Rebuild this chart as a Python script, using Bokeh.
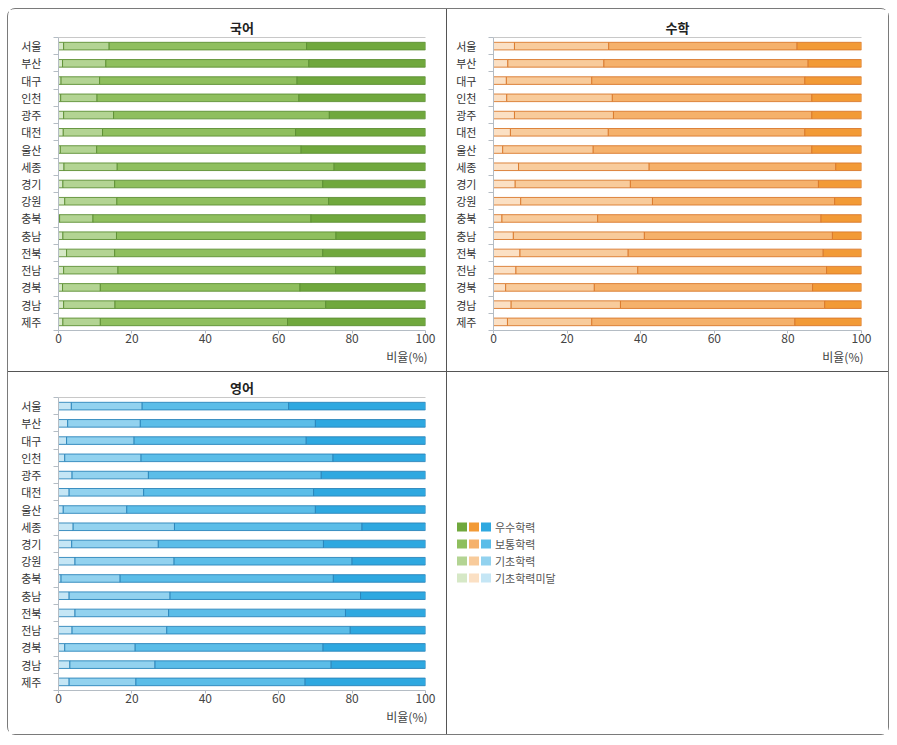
from bokeh.plotting import figure
from bokeh.layouts import column, row
from bokeh.models import Range1d, FixedTicker, LinearAxis, Title, Div
from bokeh.core.properties import value
from bokeh.embed import file_html
from bokeh.resources import INLINE

FONT = "Noto Sans CJK KR"

regions = ["서울", "부산", "대구", "인천", "광주", "대전", "울산", "세종", "경기",
           "강원", "충북", "충남", "전북", "전남", "경북", "경남", "제주"]
levels = ["기초학력미달", "기초학력", "보통학력", "우수학력"]
legend_order = ["우수학력", "보통학력", "기초학력", "기초학력미달"]
x_ticks = [0, 20, 40, 60, 80, 100]
x_title = "비율(%)"

# 국어 (%): 기초학력미달, 기초학력, 보통학력, 우수학력
kor_below = [1.4, 1.1, 0.7, 0.6, 1.4, 1.3, 0.5, 1.5, 1.2, 1.7, 0.3, 1.2, 2.2, 1.4, 1.1, 1.4, 1.2]
kor_basic = [12.4, 11.8, 10.5, 9.9, 13.6, 10.7, 9.9, 14.5, 14.1, 14.2, 9.1, 14.6, 13.1, 14.8, 10.3, 14.0, 10.2]
kor_normal = [53.8, 55.3, 53.8, 55.0, 58.8, 52.6, 55.7, 59.1, 56.7, 57.7, 59.4, 59.8, 56.7, 59.3, 54.4, 57.4, 51.0]
kor_excel = [32.4, 31.8, 35.0, 34.5, 26.2, 35.4, 33.9, 24.9, 28.0, 26.4, 31.2, 24.4, 28.0, 24.5, 34.2, 27.2, 37.6]

# 수학 (%)
math_below = [5.7, 3.9, 3.5, 3.6, 5.7, 4.6, 2.5, 6.8, 5.9, 7.4, 2.3, 5.4, 7.2, 6.1, 3.3, 4.8, 3.8]
math_basic = [25.6, 26.1, 23.2, 28.7, 26.9, 26.6, 24.6, 35.5, 31.3, 35.8, 26.0, 35.6, 29.4, 33.1, 24.1, 29.7, 22.9]
math_normal = [51.2, 55.5, 57.9, 54.2, 53.9, 53.4, 59.4, 50.7, 51.1, 49.5, 60.7, 51.1, 53.0, 51.3, 59.3, 55.5, 55.2]
math_excel = [17.5, 14.5, 15.4, 13.5, 13.5, 15.4, 13.5, 7.0, 11.7, 7.3, 11.0, 7.9, 10.4, 9.5, 13.3, 10.0, 18.1]

# 영어 (%)
eng_below = [3.5, 2.5, 2.2, 1.7, 3.7, 2.9, 1.3, 4.0, 3.6, 4.5, 0.7, 2.9, 4.5, 3.7, 1.7, 3.1, 2.9]
eng_basic = [19.3, 19.8, 18.4, 20.8, 20.8, 20.3, 17.3, 27.6, 23.6, 27.0, 16.1, 27.5, 25.5, 25.8, 19.2, 23.2, 18.2]
eng_normal = [39.9, 47.7, 46.9, 52.3, 47.1, 46.3, 51.4, 51.1, 45.0, 48.5, 58.1, 51.9, 48.2, 50.0, 51.2, 48.0, 46.1]
eng_excel = [37.3, 30.0, 32.5, 25.2, 28.4, 30.5, 30.0, 17.3, 27.8, 20.0, 25.1, 17.7, 21.8, 20.5, 27.9, 25.7, 32.8]

# palettes: 미달, 기초, 보통, 우수
kor_colors = ["#D6E8C6", "#B3D493", "#8FBF5E", "#70A83D"]
math_colors = ["#FBE0C4", "#F8CB9B", "#F5B16B", "#F29A36"]
eng_colors = ["#C5E6F5", "#92D2EF", "#5BBDE8", "#2EA8E0"]
kor_line = "#5C8E33"
math_line = "#D9782B"
eng_line = "#2A85BA"

AX = "#b4bcc4"
TXT = "#333333"


def make_panel(title, series, colors, line, width, height, bl, br, bt, bb):
    n = len(regions)
    p = figure(width=width, height=height, output_backend="svg", toolbar_location=None,
               x_range=Range1d(0, 100), y_range=Range1d(n - 0.5, -0.5),
               min_border_left=bl, min_border_right=br, min_border_top=bt, min_border_bottom=bb)
    p.title.text = title
    p.title.align = "center"
    p.title.text_font = FONT
    p.title.text_font_size = "13px"
    p.title.text_font_style = "bold"
    p.title.text_color = "#222222"
    p.title.standoff = 2
    p.outline_line_color = None
    p.grid.visible = False
    p.background_fill_color = "white"
    p.border_fill_color = "white"

    ys = list(range(n))
    left = [0.0] * n
    for k, vals in enumerate(series):
        right = [a + b for a, b in zip(left, vals)]
        p.hbar(y=ys, left=left, right=right, height=0.44, fill_color=colors[k],
               line_color=line, line_width=0.9)
        left = right

    xa = p.xaxis[0]
    xa.ticker = FixedTicker(ticks=x_ticks)
    xa.major_label_text_font = FONT
    xa.major_label_text_font_size = "12px"
    xa.major_label_text_color = "#444444"
    xa.major_tick_out = 3
    xa.major_tick_in = 0
    xa.minor_tick_line_color = None
    xa.axis_line_color = AX
    xa.major_tick_line_color = AX
    xa.major_label_standoff = 0

    ya = p.yaxis[0]
    ya.ticker = FixedTicker(ticks=ys, minor_ticks=[i - 0.5 for i in range(n + 1)])
    ya.major_label_overrides = {i: r for i, r in enumerate(regions)}
    ya.major_label_text_font = FONT
    ya.major_label_text_font_size = "11px"
    ya.major_label_text_color = TXT
    ya.major_tick_out = 0
    ya.major_tick_in = 0
    ya.major_tick_line_color = None
    ya.minor_tick_out = 5
    ya.minor_tick_in = 0
    ya.minor_tick_line_color = AX
    ya.axis_line_color = AX
    ya.major_label_standoff = 12

    top = LinearAxis(ticker=FixedTicker(ticks=[]), axis_line_color="#c8c8c8",
                     major_tick_line_color=None, minor_tick_line_color=None,
                     major_label_text_font_size="0px")
    p.add_layout(top, "above")

    p.add_layout(Title(text=x_title, align="right", text_font=FONT, text_font_size="12px",
                       text_font_style="normal", text_color="#444444", standoff=0,
                       offset=-2), "below")
    return p


p1 = make_panel("국어", [kor_below, kor_basic, kor_normal, kor_excel], kor_colors, kor_line,
                438, 362, 50, 21, 28, 41)
p2 = make_panel("수학", [math_below, math_basic, math_normal, math_excel], math_colors, math_line,
                441, 362, 46, 27, 28, 41)
p3 = make_panel("영어", [eng_below, eng_basic, eng_normal, eng_excel], eng_colors, eng_line,
                438, 362, 50, 21, 25, 44)

# legend panel (frame aligned with p3's frame; data units = canvas pixels)
W4, H4 = 441, 362
BT4, BB4 = 25, 44
p4 = figure(width=W4, height=H4, output_backend="svg", toolbar_location=None,
            x_range=Range1d(0, W4), y_range=Range1d(H4 - BB4, BT4),
            x_axis_type=None, y_axis_type=None,
            min_border_left=0, min_border_right=0, min_border_top=BT4, min_border_bottom=BB4)
p4.outline_line_color = None
p4.grid.visible = False
leg_x0, leg_y0, leg_dx, leg_dy = 14.5, 154.5, 12, 17
palettes = [kor_colors, math_colors, eng_colors]
for i, name in enumerate(legend_order):
    lvl = levels.index(name)
    yy = leg_y0 + i * leg_dy
    p4.rect(x=[leg_x0 + j * leg_dx for j in range(3)], y=[yy] * 3, width=10, height=9,
            fill_color=[pal[lvl] for pal in palettes], line_color=None)
    p4.text(x=[leg_x0 + 2 * leg_dx + 9], y=[yy], text=[name], text_font=value(FONT),
            text_font_size="11px", text_color="#555555", text_baseline="middle")

vdiv1 = Div(width=1, height=362, margin=0, styles={"background-color": "#555555"})
vdiv2 = Div(width=1, height=362, margin=0, styles={"background-color": "#555555"})
hdiv = Div(width=880, height=1, margin=0, styles={"background-color": "#555555"})

layout = column(row(p1, vdiv1, p2), hdiv, row(p3, vdiv2, p4),
                margin=(8, 0, 0, 7),
                styles={"border": "1.5px solid #7a7a7a", "border-radius": "8px"})

open("out.html", "w").write(file_html(layout, INLINE))
